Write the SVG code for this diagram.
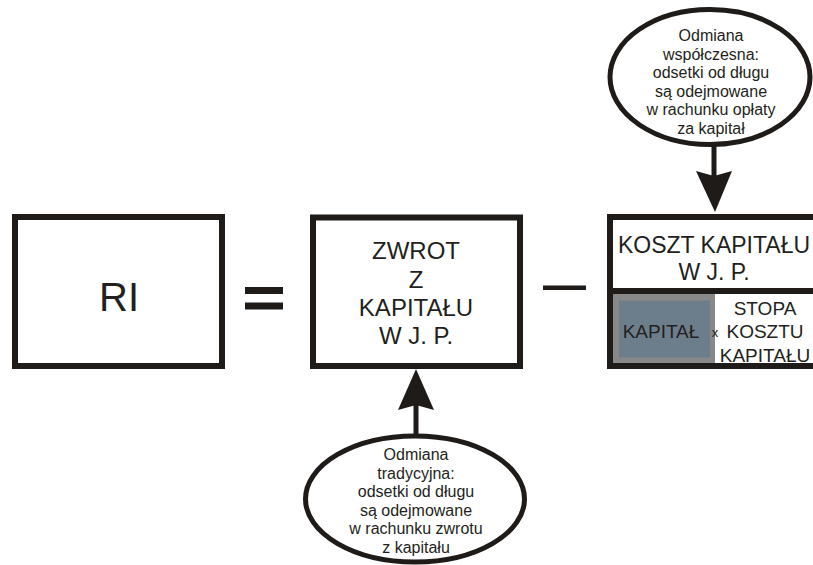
<svg xmlns="http://www.w3.org/2000/svg" width="813" height="565" viewBox="0 0 813 565">
<style>
.box{fill:#fff;stroke:#1f1b18;stroke-width:6}
.ell{fill:#fff;stroke:#1f1b18;stroke-width:5}
.t{font-family:"Liberation Sans",Arial,sans-serif;fill:#231f20;text-anchor:middle}
.big{font-size:24px}
.sm{font-size:16px}
.mid{font-size:19px}
.op{fill:#1f1b18}
</style>
<rect width="813" height="565" fill="#fff"/>
<g id="ri">
<rect class="box" x="15" y="217" width="207" height="149"/>
<text class="t" x="119" y="311" font-size="40">RI</text>
</g>
<g id="equals">
<rect class="op" x="245" y="287" width="38" height="7"/>
<rect class="op" x="245" y="302.5" width="38" height="7"/>
</g>
<g id="zwrot">
<rect class="box" x="313" y="217.5" width="207" height="148.5" stroke-width="7"/>
<text class="t big" x="416" y="259">ZWROT</text>
<text class="t big" x="416" y="288">Z</text>
<text class="t big" x="416" y="316">KAPITAŁU</text>
<text class="t big" x="416" y="344">W J. P.</text>
</g>
<g id="minus">
<rect class="op" x="543" y="285.5" width="43" height="4.5"/>
</g>
<g id="koszt">
<rect class="box" x="610" y="217" width="207" height="149"/>
<line x1="610" y1="291" x2="817" y2="291" stroke="#1f1b18" stroke-width="6"/>
<rect x="613" y="294" width="102" height="69" fill="#888888"/>
<rect x="619" y="300.5" width="91" height="57" fill="#6c7e8b"/>
<text class="t" x="714" y="253" font-size="23">KOSZT KAPITAŁU</text>
<text class="t" x="714" y="280" font-size="23">W J. P.</text>
<text class="t mid" x="661" y="338">KAPITAŁ</text>
<text class="t" x="715" y="337" font-size="13">x</text>
<text class="t mid" x="765" y="315">STOPA</text>
<text class="t mid" x="765" y="338">KOSZTU</text>
<text class="t mid" x="765" y="362">KAPITAŁU</text>
</g>
<g id="ellipse-top">
<ellipse class="ell" cx="710" cy="77" rx="100" ry="67.5"/>
<text class="t sm" x="711" y="41">Odmiana</text>
<text class="t sm" x="711" y="59.5">współczesna:</text>
<text class="t sm" x="711" y="78">odsetki od długu</text>
<text class="t sm" x="711" y="96.5">są odejmowane</text>
<text class="t sm" x="711" y="115">w rachunku opłaty</text>
<text class="t sm" x="711" y="133.5">za kapitał</text>
</g>
<g id="ellipse-bottom">
<ellipse class="ell" cx="415" cy="499" rx="109.5" ry="63"/>
<text class="t sm" x="416" y="460">Odmiana</text>
<text class="t sm" x="416" y="478.5">tradycyjna:</text>
<text class="t sm" x="416" y="497">odsetki od długu</text>
<text class="t sm" x="416" y="515.5">są odejmowane</text>
<text class="t sm" x="416" y="534">w rachunku zwrotu</text>
<text class="t sm" x="416" y="552.5">z kapitału</text>
</g>
<g id="connectors">
<line x1="714" y1="143" x2="714" y2="180" stroke="#1f1b18" stroke-width="5"/>
<path class="op" d="M696,171 L714,176 L732,171 L715,212 Z"/>
<line x1="416" y1="434" x2="416" y2="400" stroke="#1f1b18" stroke-width="5"/>
<path class="op" d="M398,410 L416,405 L434,410 L416,369 Z"/>
</g>
</svg>
